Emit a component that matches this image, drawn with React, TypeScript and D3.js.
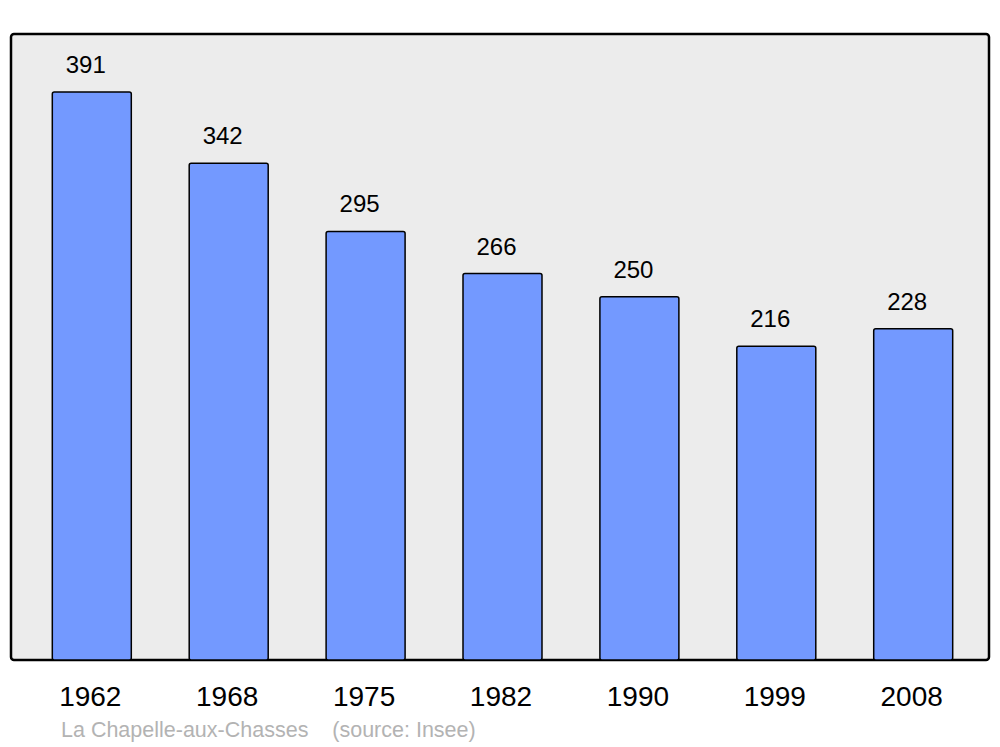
import React from "react";
import * as d3 from "d3";

const years = ["1962", "1968", "1975", "1982", "1990", "1999", "2008"];
const population = [391, 342, 295, 266, 250, 216, 228];
const title = "La Chapelle-aux-Chasses";
const source = "(source: Insee)";

export default function App() {
  const W = 1000, H = 747;
  const panel = { x0: 11, x1: 989, y0: 34, y1: 660 };
  const x = d3.scaleBand<string>().domain(years).range([20, 985]).paddingInner(0.423).paddingOuter(0.236);
  const y = d3.scaleLinear().domain([0, 430.9]).range([panel.y1, panel.y0]);
  return (
    <svg width={W} height={H} style={{ position: "absolute", left: 0, top: 0 }} fontFamily="'Liberation Sans', Arial, sans-serif">
      <rect x={0} y={0} width={W} height={H} fill="#ffffff" />
      <rect x={panel.x0} y={panel.y0} width={panel.x1 - panel.x0} height={panel.y1 - panel.y0} rx={3} fill="#ececec" stroke="#000" strokeWidth={2.5} />
      {years.map((yr, i) => {
        const bx = x(yr)!;
        const bw = x.bandwidth();
        const top = y(population[i]);
        return (
          <g key={yr}>
            <rect x={bx} y={top} width={bw} height={panel.y1 - top} rx={2} fill="#7399ff" stroke="#000" strokeWidth={1.5} />
            <text x={bx + bw / 2 - 6} y={top - 19} textAnchor="middle" fontSize={24} fill="#000">{population[i]}</text>
            <text x={bx + bw / 2 - 1.5} y={706} textAnchor="middle" fontSize={28} fill="#000">{yr}</text>
          </g>
        );
      })}
      <text x={61} y={737} fontSize={21.5} fill="#b3b3b3" xmlSpace="preserve">{title + "    " + source}</text>
    </svg>
  );
}
